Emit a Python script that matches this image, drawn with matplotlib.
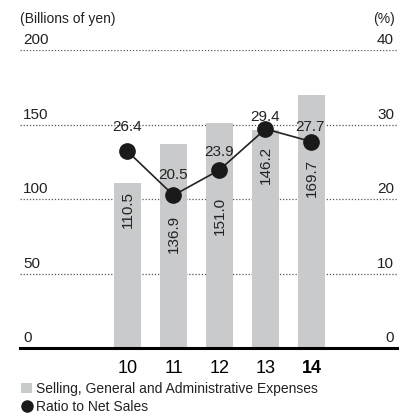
import matplotlib
matplotlib.use("Agg")
import matplotlib.pyplot as plt
from matplotlib.patches import Rectangle
from matplotlib.lines import Line2D

plt.rcParams['font.family'] = ['Liberation Sans Narrow', 'Liberation Sans', 'DejaVu Sans']

years = ['10', '11', '12', '13', '14']
sga = [110.5, 136.9, 151.0, 146.2, 169.7]
ratio = [26.4, 20.5, 23.9, 29.4, 27.7]
left_ticks = [0, 50, 100, 150, 200]
right_ticks = [0, 10, 20, 30, 40]
# vertical centers (in left-axis units) for the rotated bar labels
bar_label_y = [93.3, 77.0, 89.0, 123.5, 115.0]

W, H = 404, 414
fig = plt.figure(figsize=(W / 100, H / 100), dpi=100)
ax_l, ax_r, ax_t, ax_b = 20, 397, 51, 349
ax = fig.add_axes([ax_l / W, (H - ax_b) / H, (ax_r - ax_l) / W, (ax_b - ax_t) / H])
ax2 = ax.twinx()

x = list(range(len(years)))
bar_color = '#c9cacb'
ax.bar(x, sga, width=0.587, color=bar_color, zorder=2)
ax.set_xlim(-2.337, 5.859)
ax.set_ylim(0, 200)
ax2.set_ylim(0, 40)

for v in left_ticks[1:]:
    ax.axhline(v, color='#555555', lw=0.9, ls=(0, (1, 1.5)), zorder=1)
ax.axhline(0, color='black', lw=2.2, zorder=3, clip_on=False)

for v in left_ticks:
    ax.text(0.008, v + 2.5, f'{v}', transform=ax.get_yaxis_transform(),
            ha='left', va='bottom', fontsize=11, color='#222222')
for v in right_ticks:
    ax2.text(0.992, v + 0.5, f'{v}', transform=ax2.get_yaxis_transform(),
             ha='right', va='bottom', fontsize=11, color='#222222')

for xi, v, ly in zip(x, sga, bar_label_y):
    ax.text(xi, ly, f'{v:.1f}', rotation=90, ha='center', va='center',
            fontsize=11, color='#222222', zorder=4)

ax2.plot(x, ratio, color='#222222', lw=1.2, marker='o', markersize=11,
         markerfacecolor='#1a1a1a', markeredgecolor='#1a1a1a', zorder=5)
label_off = [3.4, 2.8, 2.6, 1.7, 2.1]
label_dx = [0, 0, 0, 0, -0.03]
for xi, v, o, dx in zip(x, ratio, label_off, label_dx):
    ax2.text(xi + dx, v + o, f'{v:.1f}', ha='center', va='center',
             fontsize=11, color='#222222', zorder=6)

ax.set_xticks(x)
ax.set_xticklabels(years, fontsize=13)
ax.get_xticklabels()[-1].set_fontweight('bold')
ax.tick_params(axis='x', length=0, pad=8)
ax.tick_params(axis='y', left=False, labelleft=False)
ax2.tick_params(axis='y', right=False, labelright=False)
for a in (ax, ax2):
    for s in a.spines.values():
        s.set_visible(False)
    a.patch.set_visible(False)

# header units
fig.text(20 / W, 1 - 19 / H, '(Billions of yen)', ha='left', va='center', fontsize=10, color='#222222')
fig.text(395 / W, 1 - 19 / H, '(%)', ha='right', va='center', fontsize=10, color='#222222')

# legend
fig.add_artist(Rectangle((21 / W, 1 - 394 / H), 11 / W, 10 / H, transform=fig.transFigure,
                         facecolor=bar_color, edgecolor='none'))
fig.text(36 / W, 1 - 389 / H, 'Selling, General and Administrative Expenses',
         ha='left', va='center', fontsize=10, color='#222222')
fig.add_artist(Line2D([26.5 / W], [1 - 407 / H], transform=fig.transFigure, marker='o',
                      markersize=8, color='#1a1a1a', linestyle='none'))
fig.text(36 / W, 1 - 407 / H, 'Ratio to Net Sales', ha='left', va='center', fontsize=10, color='#222222')

fig.savefig('out.png', dpi=100)
